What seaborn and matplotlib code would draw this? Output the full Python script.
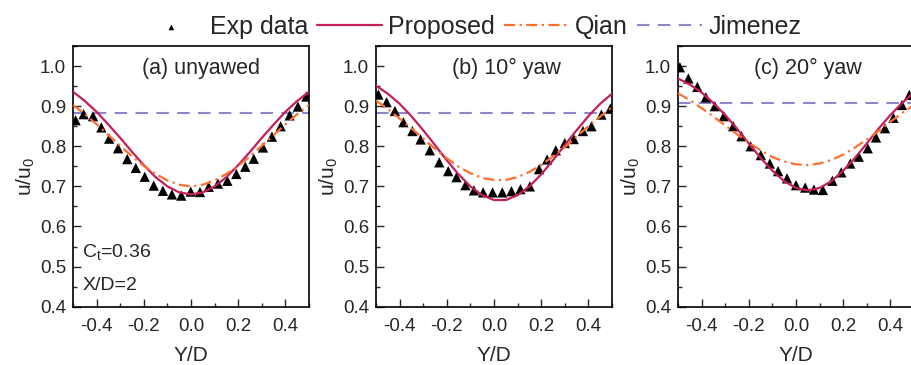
import numpy as np
import pandas as pd
import matplotlib
matplotlib.use("Agg")
import matplotlib.pyplot as plt
import seaborn as sns

# ---------------- data ----------------
y_model = [-0.5, -0.45, -0.4, -0.35, -0.3, -0.25, -0.2, -0.15, -0.1, -0.05, 0.0,
           0.05, 0.1, 0.15, 0.2, 0.25, 0.3, 0.35, 0.4, 0.45, 0.5]

# (a) unyawed
prop_a = [0.936, 0.913, 0.886, 0.854, 0.821, 0.786, 0.753, 0.723, 0.700, 0.685, 0.680,
          0.685, 0.700, 0.723, 0.753, 0.786, 0.821, 0.854, 0.886, 0.913, 0.936]
qian_a = [0.903, 0.880, 0.855, 0.828, 0.801, 0.775, 0.751, 0.731, 0.715, 0.704, 0.700,
          0.704, 0.715, 0.731, 0.751, 0.775, 0.801, 0.828, 0.855, 0.880, 0.903]
jim_a = 0.883
exp_a_y = [-0.489, -0.455, -0.415, -0.380, -0.347, -0.309, -0.270, -0.234, -0.196, -0.158,
           -0.119, -0.081, -0.041, -0.001, 0.038, 0.075, 0.114, 0.154, 0.192, 0.230,
           0.266, 0.305, 0.343, 0.380, 0.418, 0.453, 0.489]
exp_a_u = [0.865, 0.880, 0.875, 0.847, 0.819, 0.795, 0.768, 0.746, 0.724, 0.702,
           0.689, 0.680, 0.677, 0.687, 0.686, 0.699, 0.707, 0.714, 0.731, 0.749,
           0.769, 0.797, 0.824, 0.850, 0.877, 0.899, 0.924]

# (b) 10 deg yaw
prop_b = [0.951, 0.931, 0.906, 0.875, 0.840, 0.803, 0.765, 0.730, 0.700, 0.678, 0.666,
          0.666, 0.678, 0.700, 0.730, 0.765, 0.803, 0.840, 0.875, 0.906, 0.931]
qian_b = [0.914, 0.893, 0.869, 0.845, 0.819, 0.794, 0.770, 0.749, 0.733, 0.721, 0.716,
          0.716, 0.723, 0.736, 0.753, 0.775, 0.798, 0.824, 0.850, 0.874, 0.897]
jim_b = 0.882
exp_b_y = [-0.490, -0.455, -0.420, -0.384, -0.346, -0.311, -0.272, -0.232, -0.194, -0.159,
           -0.121, -0.085, -0.046, -0.006, 0.035, 0.074, 0.112, 0.152, 0.191, 0.225,
           0.262, 0.300, 0.338, 0.377, 0.413, 0.455, 0.493]
exp_b_u = [0.929, 0.910, 0.888, 0.860, 0.838, 0.817, 0.790, 0.760, 0.738, 0.723,
           0.703, 0.690, 0.685, 0.685, 0.685, 0.688, 0.693, 0.700, 0.743, 0.767,
           0.790, 0.808, 0.818, 0.838, 0.850, 0.879, 0.894]

# (c) 20 deg yaw
prop_c = [0.969, 0.954, 0.934, 0.908, 0.878, 0.844, 0.807, 0.771, 0.739, 0.713, 0.696,
          0.690, 0.696, 0.713, 0.739, 0.771, 0.807, 0.844, 0.878, 0.908, 0.934]
qian_c = [0.932, 0.915, 0.895, 0.874, 0.852, 0.830, 0.809, 0.790, 0.773, 0.762, 0.755,
          0.753, 0.757, 0.766, 0.779, 0.797, 0.817, 0.838, 0.861, 0.883, 0.903]
jim_c = 0.907
exp_c_y = [-0.492, -0.456, -0.418, -0.382, -0.344, -0.306, -0.266, -0.231, -0.192, -0.149,
           -0.111, -0.076, -0.038, 0.000, 0.039, 0.076, 0.114, 0.154, 0.192, 0.230,
           0.266, 0.304, 0.339, 0.377, 0.413, 0.449, 0.480]
exp_c_u = [0.997, 0.969, 0.948, 0.922, 0.900, 0.875, 0.850, 0.825, 0.800, 0.778,
           0.757, 0.738, 0.720, 0.703, 0.697, 0.692, 0.691, 0.714, 0.735, 0.757,
           0.774, 0.795, 0.822, 0.845, 0.871, 0.903, 0.928]

titles = ["(a) unyawed", "(b) 10\u00b0 yaw", "(c) 20\u00b0 yaw"]
title_x = [0.041, 0.051, 0.049]
x_ticks = [-0.4, -0.2, 0.0, 0.2, 0.4]
y_ticks = [0.4, 0.5, 0.6, 0.7, 0.8, 0.9, 1.0]

panels = [
    (exp_a_y, exp_a_u, prop_a, qian_a, jim_a),
    (exp_b_y, exp_b_u, prop_b, qian_b, jim_b),
    (exp_c_y, exp_c_u, prop_c, qian_c, jim_c),
]

# ---------------- style ----------------
sns.set_style("ticks")
plt.rcParams["font.family"] = ["Liberation Sans", "DejaVu Sans"]
plt.rcParams["mathtext.fontset"] = "custom"
plt.rcParams["mathtext.rm"] = "Liberation Sans"
plt.rcParams["mathtext.it"] = "Liberation Sans"
plt.rcParams["xtick.direction"] = "in"
plt.rcParams["ytick.direction"] = "in"

C_PROP = "#C41E5C"
C_QIAN = "#FF6F2E"
C_JIM = "#8C87CC"

fig = plt.figure(figsize=(9.11, 3.65), dpi=100)
lefts = [73 / 911, 376 / 911, 678 / 911]
bottom = 1 - 306.7 / 365
height = (306.7 - 46) / 365
width = 236 / 911

axes = []
for i, (ey, eu, pr, qn, jm) in enumerate(panels):
    ax = fig.add_axes([lefts[i], bottom, width, height])
    axes.append(ax)
    df_exp = pd.DataFrame({"Y/D": ey, "u": eu})
    df_mod = pd.DataFrame({"Y/D": y_model, "Proposed": pr, "Qian": qn,
                           "Jimenez": [jm] * len(y_model)})
    sns.scatterplot(data=df_exp, x="Y/D", y="u", ax=ax, marker="^", color="black",
                    s=55, edgecolor="none", label="Exp data", zorder=3)
    sns.lineplot(data=df_mod, x="Y/D", y="Proposed", ax=ax, color=C_PROP, lw=1.6,
                 label="Proposed", zorder=4)
    sns.lineplot(data=df_mod, x="Y/D", y="Qian", ax=ax, color=C_QIAN, lw=1.6,
                 linestyle=(0, (5, 2, 1, 2)), label="Qian", zorder=4)
    sns.lineplot(data=df_mod, x="Y/D", y="Jimenez", ax=ax, color=C_JIM, lw=1.5,
                 linestyle=(0, (6, 4)), label="Jimenez", zorder=2)
    ax.set_xlim(-0.5, 0.5)
    ax.set_ylim(0.4, 1.05)
    ax.set_xticks(x_ticks)
    ax.set_xticklabels([f"{v:.1f}" for v in x_ticks])
    ax.set_yticks(y_ticks)
    ax.set_yticklabels([f"{v:.1f}" for v in y_ticks])
    ax.set_xticks(np.arange(-0.5, 0.51, 0.1), minor=True)
    ax.set_yticks(np.arange(0.4, 1.051, 0.05), minor=True)
    ax.tick_params(which="major", length=6, width=1, labelsize=13.5, top=False, right=False)
    ax.tick_params(axis="x", which="major", pad=8)
    ax.tick_params(axis="y", which="major", pad=5)
    ax.tick_params(which="minor", length=3, width=1, top=False, right=False)
    for sp in ax.spines.values():
        sp.set_visible(True)
        sp.set_linewidth(1.2)
        sp.set_color("black")
    ax.set_xlabel("Y/D", fontsize=15, labelpad=8)
    ax.set_ylabel("u/u$_0$", fontsize=15, labelpad=2)
    ax.text(title_x[i], 0.993, titles[i], ha="center", va="center", fontsize=15.5)
    leg = ax.get_legend()
    if leg is not None:
        leg.remove()

axes[0].text(-0.46, 0.537, "C$_t$=0.36", ha="left", va="center", fontsize=14)
axes[0].text(-0.46, 0.454, "X/D=2", ha="left", va="center", fontsize=14)

handles, labels = axes[0].get_legend_handles_labels()
fig.legend(handles, labels, ncol=4, loc="center", bbox_to_anchor=(470 / 911, 1 - 27 / 365),
           frameon=False, fontsize=18, handlelength=2.6, handletextpad=0.25,
           columnspacing=0.35, markerscale=0.55, borderpad=0.1)

fig.savefig("out.png", dpi=100)
